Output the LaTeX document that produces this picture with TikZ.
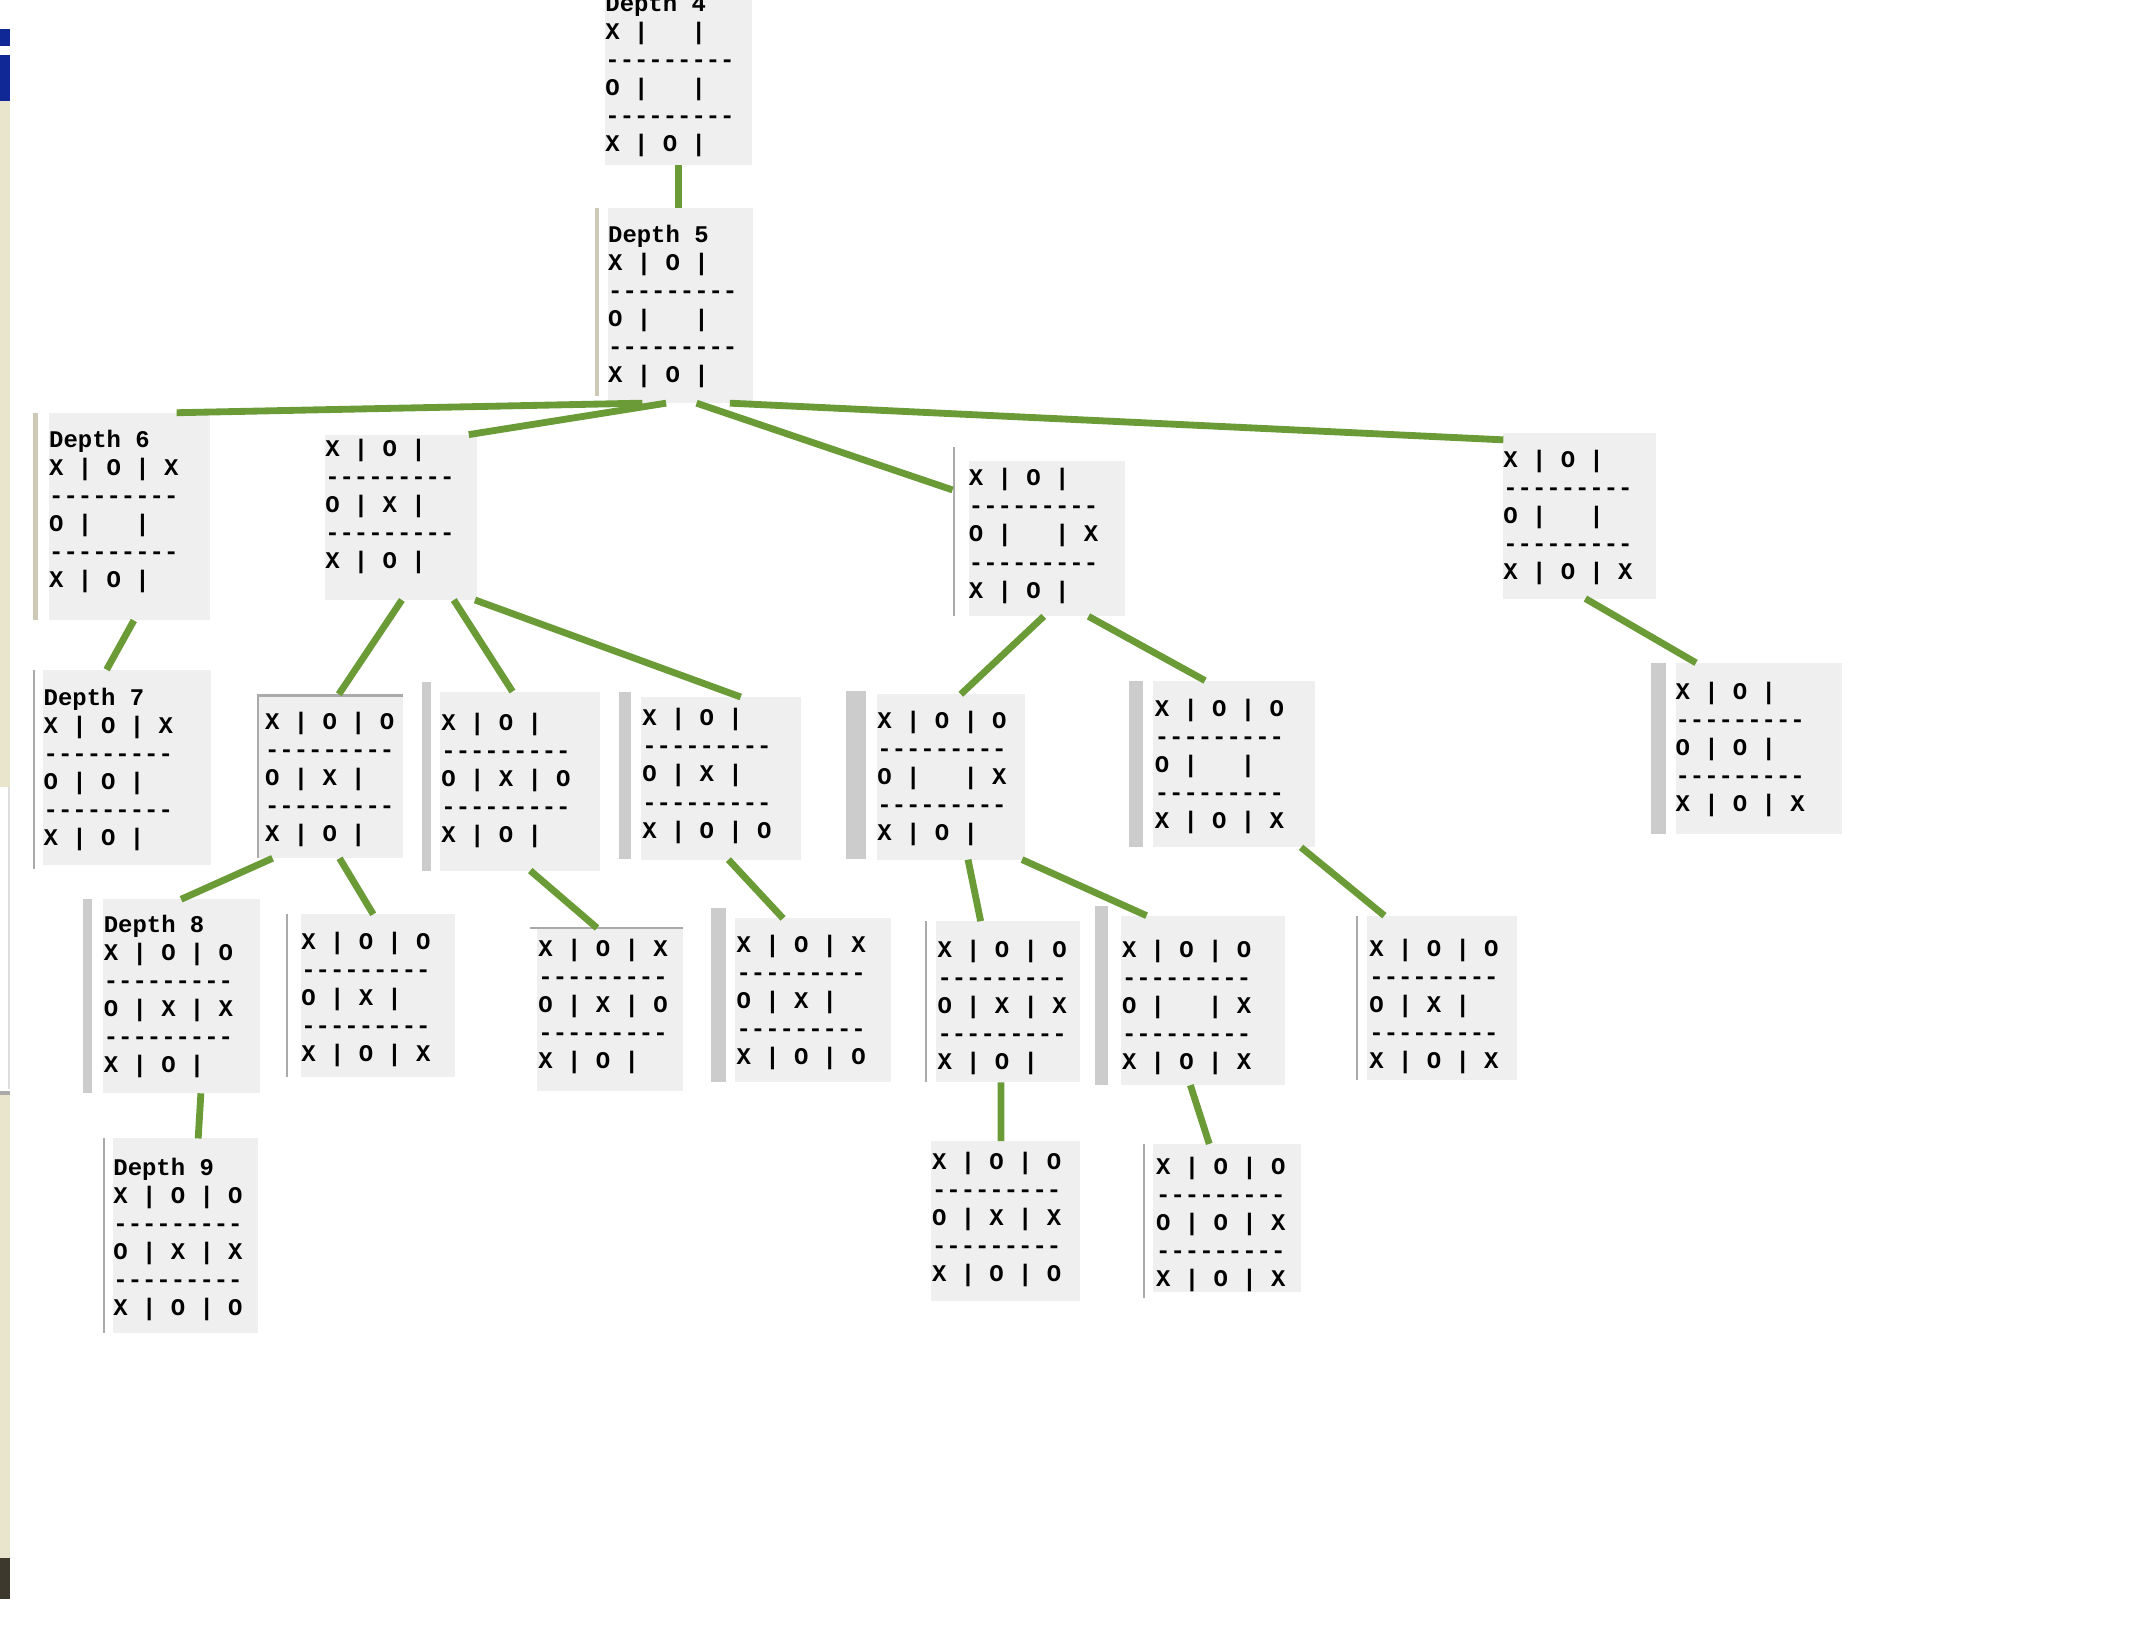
\documentclass[tikz,border=0pt]{standalone}
\usepackage{fontspec}
\setmonofont{Liberation Mono}
\usetikzlibrary{calc}
\definecolor{boardgray}{RGB}{239,239,239}
\definecolor{stripgray}{RGB}{204,204,204}
\definecolor{rimgray}{RGB}{170,170,170}
\definecolor{sandstrip}{RGB}{233,229,204}
\definecolor{sandrim}{RGB}{205,201,182}
\definecolor{treegreen}{RGB}{106,155,55}
\definecolor{winblue}{RGB}{16,40,150}

\begin{document}
\begin{tikzpicture}[x=1pt, y=-1pt,
      every node/.style = {inner sep=0pt, outer sep=0pt, anchor=north west},
      board/.style = {fill=boardgray},
      strip/.style = {fill=stripgray},
      rim/.style   = {fill=rimgray},
      sand/.style  = {fill=sandrim},
      boardtext/.style = {align=left, yshift=-2pt, font=\ttfamily\bfseries\fontsize{17.5}{20.5}\selectfont, execute at begin node=\strut},
      link/.style  = {draw=treegreen, line width=5pt}
    ]
    \useasboundingbox (0,0) rectangle (1560,1206);

    % window edge on the left
    \fill[winblue]   (0,21)   rectangle (7,34);
    \fill[winblue]   (0,40)   rectangle (7,74);
    \fill[sandstrip] (0,74)   rectangle (7,576);
    \fill[rimgray!40] (6,576) rectangle (7.5,797);
    \fill[rimgray]   (0,798)  rectangle (7,801);
    \fill[sandstrip] (0,801)  rectangle (7,1140);
    \fill[black!75!olive] (0,1140) rectangle (7,1170);

    % boards
    \node (d4)   [board, minimum width=107pt, minimum height=138pt] at (443,-17) {};
    \node (d5)   [board, minimum width=106pt, minimum height=143pt] at (445,152) {};
    \node (d6)   [board, minimum width=118pt, minimum height=152pt] at (36,302)  {};
    \node (d6b)  [board, minimum width=111pt, minimum height=121pt] at (238,318) {};
    \node (d6c)  [board, minimum width=114pt, minimum height=114pt] at (709,337) {};
    \node (d6d)  [board, minimum width=112pt, minimum height=121pt] at (1100,317) {};
    \node (d7)   [board, minimum width=123pt, minimum height=143pt] at (31.5,490) {};
    \node (d7b)  [board, minimum width=107pt, minimum height=120pt] at (188,508) {};
    \node (d7c)  [board, minimum width=117pt, minimum height=131pt] at (322,506) {};
    \node (d7d)  [board, minimum width=117pt, minimum height=119pt] at (469,510) {};
    \node (d7e)  [board, minimum width=108pt, minimum height=121pt] at (642,508) {};
    \node (d7f)  [board, minimum width=118pt, minimum height=122pt] at (844,498) {};
    \node (d7g)  [board, minimum width=122pt, minimum height=125pt] at (1226,485) {};
    \node (d8)   [board, minimum width=115pt, minimum height=142pt] at (75,658)  {};
    \node (d8b)  [board, minimum width=113pt, minimum height=119pt] at (220,669) {};
    \node (d8c)  [board, minimum width=107pt, minimum height=119pt] at (393,679) {};
    \node (d8d)  [board, minimum width=114pt, minimum height=120pt] at (538,672) {};
    \node (d8e)  [board, minimum width=105pt, minimum height=118pt] at (685,674) {};
    \node (d8f)  [board, minimum width=120pt, minimum height=124pt] at (820,670) {};
    \node (d8g)  [board, minimum width=110pt, minimum height=120pt] at (1000,670) {};
    \node (d9)   [board, minimum width=106pt, minimum height=142pt] at (83,833)  {};
    \node (d9b)  [board, minimum width=109pt, minimum height=117pt] at (681,835) {};
    \node (d9c)  [board, minimum width=108pt, minimum height=108pt] at (844,837) {};

    % scroll strips and rims beside the boards
    \node (d5s)  [sand,  minimum width=3pt,   minimum height=138pt] at (435,152) {};
    \node (d6s)  [sand,  minimum width=4pt,   minimum height=152pt] at (24,302)  {};
    \node (d6cs) [rim,   minimum width=2pt,   minimum height=124pt] at (697,327) {};
    \node (d7s)  [rim,   minimum width=1.5pt, minimum height=146pt] at (24,490)  {};
    \node (d7bs) [rim,   minimum width=1.5pt, minimum height=120pt] at (188,508) {};
    \node (d7bt) [rim,   minimum width=107pt, minimum height=2pt]   at (188,508) {};
    \node (d7cs) [strip, minimum width=6pt,   minimum height=138pt] at (309,499) {};
    \node (d7ds) [strip, minimum width=9pt,   minimum height=122pt] at (452.6,506.6) {};
    \node (d7es) [strip, minimum width=15pt,  minimum height=123pt] at (619,505.6) {};
    \node (d7fs) [strip, minimum width=10pt,  minimum height=122pt] at (826,498) {};
    \node (d7gs) [strip, minimum width=11pt,  minimum height=125pt] at (1208,485) {};
    \node (d8s)  [strip, minimum width=6pt,   minimum height=142pt] at (61,658)  {};
    \node (d8bs) [rim,   minimum width=2pt,   minimum height=119pt] at (209,669) {};
    \node (d8ct) [rim,   minimum width=112pt, minimum height=2pt]   at (388,678) {};
    \node (d8ds) [strip, minimum width=11pt,  minimum height=127pt] at (520,664.5) {};
    \node (d8es) [rim,   minimum width=1.5pt, minimum height=118pt] at (677,674) {};
    \node (d8fs) [strip, minimum width=10pt,  minimum height=131pt] at (801,663) {};
    \node (d8gs) [rim,   minimum width=1.5pt, minimum height=120pt] at (992,670) {};
    \node (d9s)  [rim,   minimum width=1.5pt, minimum height=142pt] at (75,833)  {};
    \node (d9cs) [rim,   minimum width=1.5pt, minimum height=113pt] at (836,837) {};

    % board texts
    \node (d4t)  [boardtext] at (443,-6.6)  {Depth 4\\X |~~~|\\---------\\O |~~~|\\---------\\X | O |};
    \node (d5t)  [boardtext] at (445,162.9) {Depth 5\\X | O |\\---------\\O |~~~|\\---------\\X | O |};
    \node (d6t)  [boardtext] at (36,312.4)  {Depth 6\\X | O | X\\---------\\O |~~~|\\---------\\X | O |};
    \node (d6bt) [boardtext] at (238,319)   {X | O |\\---------\\O | X |\\---------\\X | O |};
    \node (d6ct) [boardtext] at (709,340.9) {X | O |\\---------\\O |~~~| X\\---------\\X | O |};
    \node (d6dt) [boardtext] at (1100,327.5) {X | O |\\---------\\O |~~~|\\---------\\X | O | X};
    \node (d7t)  [boardtext] at (32,501.4)  {Depth 7\\X | O | X\\---------\\O | O |\\---------\\X | O |};
    \node (d7bx) [boardtext] at (194,519)   {X | O | O\\---------\\O | X |\\---------\\X | O |};
    \node (d7ct) [boardtext] at (323,519.7) {X | O |\\---------\\O | X | O\\---------\\X | O |};
    \node (d7dt) [boardtext] at (470,516.5) {X | O |\\---------\\O | X |\\---------\\X | O | O};
    \node (d7et) [boardtext] at (642,518.4) {X | O | O\\---------\\O |~~~| X\\---------\\X | O |};
    \node (d7ft) [boardtext] at (845,509.9) {X | O | O\\---------\\O |~~~|\\---------\\X | O | X};
    \node (d7gt) [boardtext] at (1226,497)  {X | O |\\---------\\O | O |\\---------\\X | O | X};
    \node (d8t)  [boardtext] at (76,667.7)  {Depth 8\\X | O | O\\---------\\O | X | X\\---------\\X | O |};
    \node (d8bt) [boardtext] at (220.5,679.9) {X | O | O\\---------\\O | X |\\---------\\X | O | X};
    \node (d8cx) [boardtext] at (394,685.5) {X | O | X\\---------\\O | X | O\\---------\\X | O |};
    \node (d8dt) [boardtext] at (539,682.3) {X | O | X\\---------\\O | X |\\---------\\X | O | O};
    \node (d8et) [boardtext] at (686,686)   {X | O | O\\---------\\O | X | X\\---------\\X | O |};
    \node (d8ft) [boardtext] at (821,686)   {X | O | O\\---------\\O |~~~| X\\---------\\X | O | X};
    \node (d8gt) [boardtext] at (1002,684.9) {X | O | O\\---------\\O | X |\\---------\\X | O | X};
    \node (d9t)  [boardtext] at (83,845.7)  {Depth 9\\X | O | O\\---------\\O | X | X\\---------\\X | O | O};
    \node (d9bt) [boardtext] at (682,840.8) {X | O | O\\---------\\O | X | X\\---------\\X | O | O};
    \node (d9ct) [boardtext] at (846,844.5) {X | O | O\\---------\\O | O | X\\---------\\X | O | X};

    % tree links
    \draw[link] (d4.south) -- (d4.south |- d5.north);
    \draw[link] ($(d5.south west)!.236!(d5.south east)$)  -- ($(d6.north west)!.79!(d6.north east)$);
    \draw[link] ($(d5.south west)!.40!(d5.south east)$)   -- ($(d6b.north west)!.946!(d6b.north east)$);
    \draw[link] ($(d5.south west)!.61!(d5.south east)$)   -- ($(d6cs.north west)!.254!(d6cs.south west)$);
    \draw[link] ($(d5.south west)!.84!(d5.south east)$)   -- ($(d6d.north west)!.04!(d6d.south west)$);
    \draw[link] ($(d6.south west)!.525!(d6.south east)$)  -- ($(d7.north west)!.378!(d7.north east)$);
    \draw[link] ($(d6b.south west)!.505!(d6b.south east)$) -- ($(d7b.north west)!.56!(d7b.north east)$);
    \draw[link] ($(d6b.south west)!.847!(d6b.south east)$) -- ($(d7c.north west)!.453!(d7c.north east)$);
    \draw[link] ($(d6b.south west)!.987!(d6b.south east)$) -- ($(d7d.north west)!.624!(d7d.north east)$);
    \draw[link] ($(d6c.south west)!.48!(d6c.south east)$)  -- ($(d7e.north west)!.565!(d7e.north east)$);
    \draw[link] ($(d6c.south west)!.767!(d6c.south east)$) -- ($(d7f.north west)!.32!(d7f.north east)$);
    \draw[link] ($(d6d.south west)!.536!(d6d.south east)$) -- ($(d7g.north west)!.123!(d7g.north east)$);
    \draw[link] ($(d7b.south west)!.107!(d7b.south east)$) -- ($(d8.north west)!.5!(d8.north east)$);
    \draw[link] ($(d7b.south west)!.565!(d7b.south east)$) -- ($(d8b.north west)!.47!(d8b.north east)$);
    \draw[link] ($(d7c.south west)!.564!(d7c.south east)$) -- ($(d8c.north west)!.41!(d8c.north east)$);
    \draw[link] ($(d7d.south west)!.547!(d7d.south east)$) -- ($(d8d.north west)!.307!(d8d.north east)$);
    \draw[link] ($(d7e.south west)!.614!(d7e.south east)$) -- ($(d8e.north west)!.31!(d8e.north east)$);
    \draw[link] ($(d7e.south west)!.98!(d7e.south east)$)  -- ($(d8f.north west)!.158!(d8f.north east)$);
    \draw[link] ($(d7f.south west)!.915!(d7f.south east)$) -- ($(d8g.north west)!.118!(d8g.north east)$);
    \draw[link] ($(d8.south west)!.626!(d8.south east)$)   -- ($(d9.north west)!.585!(d9.north east)$);
    \draw[link] ($(d8e.south west)!.452!(d8e.south east)$) -- ($(d9b.north west)!.472!(d9b.north east)$);
    \draw[link] ($(d8f.south west)!.425!(d8f.south east)$) -- ($(d9c.north west)!.378!(d9c.north east)$);

  \end{tikzpicture}
\end{document}
